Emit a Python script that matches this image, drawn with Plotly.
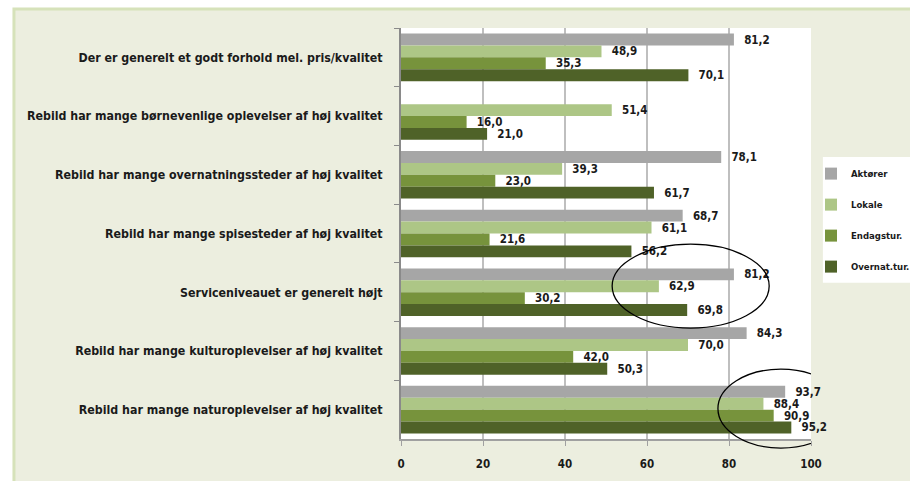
import plotly.graph_objects as go

# Categories, top to bottom as in the chart
categories = [
    "Der er generelt et godt forhold mel. pris/kvalitet",
    "Rebild har mange børnevenlige oplevelser af høj kvalitet",
    "Rebild har mange overnatningssteder af høj kvalitet",
    "Rebild har mange spisesteder af høj kvalitet",
    "Serviceniveauet er generelt højt",
    "Rebild har mange kulturoplevelser af høj kvalitet",
    "Rebild har mange naturoplevelser af høj kvalitet",
]

aktorer = [81.2, None, 78.1, 68.7, 81.2, 84.3, 93.7]
lokale = [48.9, 51.4, 39.3, 61.1, 62.9, 70.0, 88.4]
endagstur = [35.3, 16.0, 23.0, 21.6, 30.2, 42.0, 90.9]
overnattur = [70.1, 21.0, 61.7, 56.2, 69.8, 50.3, 95.2]

series = [
    ("Aktører", aktorer, "#A6A6A6"),
    ("Lokale", lokale, "#ADC686"),
    ("Endagstur.", endagstur, "#77933C"),
    ("Overnat.tur.", overnattur, "#4F6228"),
]

x_ticks = [0, 20, 40, 60, 80, 100]

FONT = "DejaVu Sans Condensed, Liberation Sans Narrow, sans-serif"
TEXT = "#1A1A1A"

fig = go.Figure()

for i, (name, values, color) in enumerate(series):
    fig.add_trace(
        go.Bar(
            x=values,
            y=categories,
            orientation="h",
            name=name,
            legendgroup=f"g{i}",
            marker_color=color,
            marker_line_width=0,
            texttemplate="\u00a0\u00a0%{x:.1f}",
            textposition="outside",
            constraintext="none",
            cliponaxis=False,
            textfont=dict(family=FONT, size=11.5, color=TEXT, weight="bold"),
        )
    )

# frame, white plot area and white legend box behind the chart
fig.add_shape(
    type="rect", xref="paper", yref="paper",
    x0=-0.944, x1=1.3, y0=-0.2, y1=1.046,
    fillcolor="#ECEEDF", line=dict(color="#D6E2BA", width=3), layer="below",
)
fig.add_shape(
    type="rect", xref="paper", yref="paper",
    x0=0, x1=1, y0=0, y1=1,
    fillcolor="white", line_width=0, layer="below",
)
fig.add_shape(
    type="rect", xref="paper", yref="paper",
    x0=1.029, x1=1.3, y0=0.38, y1=0.686,
    fillcolor="white", line_width=0, layer="below",
)

# highlight circles
fig.add_shape(
    type="circle", xref="x", yref="paper",
    x0=51.5, x1=89.8, y0=0.27, y1=0.474,
    line=dict(color="black", width=1.3),
)
fig.add_shape(
    type="circle", xref="x", yref="paper",
    x0=77.3, x1=108, y0=-0.022, y1=0.17,
    line=dict(color="black", width=1.3),
)

fig.update_layout(
    width=910,
    height=481,
    margin=dict(l=401, r=99, t=28, b=42, autoexpand=False),
    paper_bgcolor="white",
    plot_bgcolor="rgba(0,0,0,0)",
    barmode="group",
    bargap=0.19,
    bargroupgap=0,
    separators=",.",
    font=dict(family=FONT, color=TEXT),
    legend=dict(
        x=1.0, y=0.681, xanchor="left", yanchor="top",
        bgcolor="rgba(0,0,0,0)",
        font=dict(family=FONT, size=9.5, color=TEXT, weight="bold"),
        tracegroupgap=12,
        itemwidth=30,
    ),
    xaxis=dict(
        range=[0, 100],
        tickvals=x_ticks,
        showgrid=True,
        gridcolor="#BFBFBF",
        gridwidth=1.5,
        showline=True,
        linecolor="#A0A0A0",
        linewidth=2,
        ticks="outside",
        ticklen=5,
        tickcolor="#A0A0A0",
        ticklabelstandoff=8,
        tickfont=dict(family=FONT, size=11.5, color=TEXT, weight="bold"),
        zeroline=False,
    ),
    yaxis=dict(
        autorange="reversed",
        showline=True,
        linecolor="#8A8A8A",
        linewidth=2,
        ticks="outside",
        tickson="boundaries",
        ticklen=5,
        tickcolor="#8A8A8A",
        ticklabelstandoff=14,
        tickfont=dict(family=FONT, size=12.3, color=TEXT, weight="bold"),
        showgrid=False,
    ),
)

fig.write_html(
    "out.html",
    config={"displayModeBar": False},
    post_script="document.body.style.margin='0';",
)
